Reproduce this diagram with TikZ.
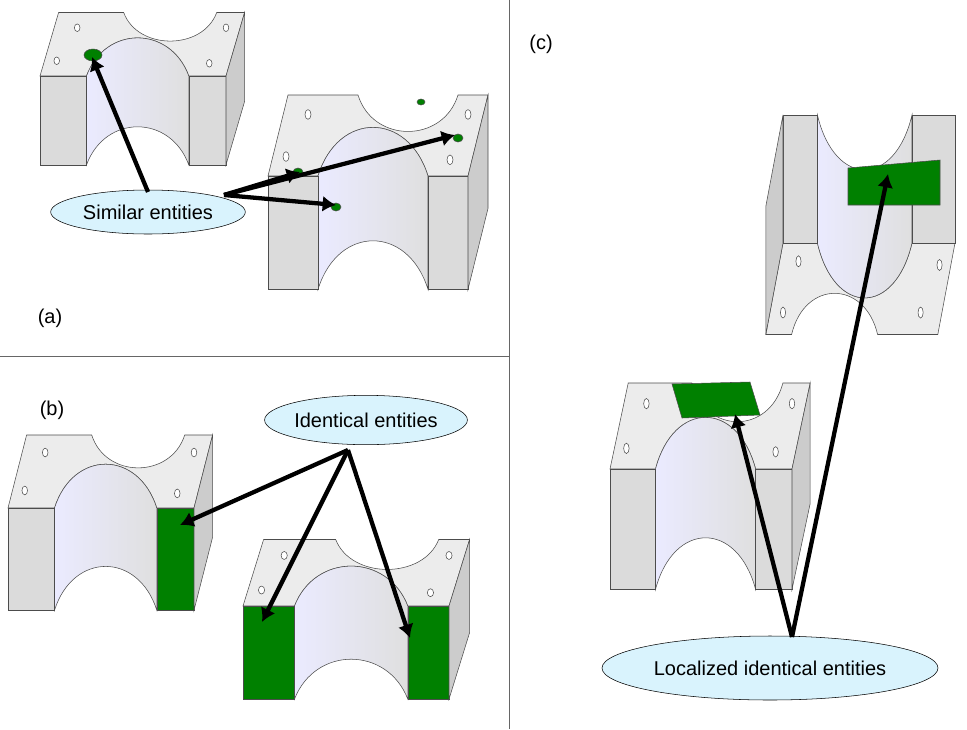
\documentclass[tikz,border=0pt]{standalone}
\usepackage{fontspec}
\setmainfont{Liberation Sans}
\usetikzlibrary{shapes.geometric,arrows.meta}
\tikzset{lf/.store in=\lfc, rf/.store in=\rfc, lf=gray!28, rf=gray!28}
\begin{document}
\begin{tikzpicture}[x=0.75pt,y=-0.75pt,
  lbl/.style={ellipse,draw=black,fill=cyan!15!white,inner sep=0pt,font=\fontsize{15}{17}\selectfont},
  arr/.style={line width=3.2pt,-{Latex[length=10pt,width=12pt]}},
  face/.style={draw=black!70,line width=0.4pt},
  grn/.style={fill=green!50!black,draw=black!70,line width=0.4pt},
  part/.pic={
    \fill[face,fill=gray!15] (0,0)--(50,0) .. controls (70,-40) and (140,-40) .. (160,0)--(200,0)--(220,-50)--(190,-50) .. controls (175,-20) and (105,-20) .. (90,-50)--(20,-50)--cycle;
    \shade[left color=blue!8,right color=gray!25,draw=black!70,line width=0.4pt] (50,0) .. controls (70,-40) and (140,-40) .. (160,0)--(160,70) .. controls (140,30) and (70,30) .. (50,70)--cycle;
    \fill[face,fill=\lfc] (0,0)--(50,0)--(50,70)--(0,70)--cycle;
    \fill[face,fill=\rfc] (160,0)--(200,0)--(200,70)--(160,70)--cycle;
    \fill[face,fill=gray!40] (200,0)--(220,-50)--(220,20)--(200,70)--cycle;
    \draw[black!70,fill=white] (18,-12) circle (3) (40,-38) circle (3) (200,-38) circle (3) (182,-10) circle (3);
  }]
\useasboundingbox (0,0) rectangle (967,729);
\draw[black!60] (509,0)--(509,729) (0,356)--(509,356);
\node[font=\fontsize{15}{17}\selectfont] (la) at (50,318) {(a)};
\node[font=\fontsize{15}{17}\selectfont] (lb) at (52,410) {(b)};
\node[font=\fontsize{15}{17}\selectfont] (lc) at (541,44) {(c)};
% parts
\pic at (40,76) [xscale=0.93,yscale=1.27] {part};
\pic at (268,176) [xscale=1.0,yscale=1.62] {part};
\pic[rf=green!50!black] at (8,508) [xscale=0.93,yscale=1.46] {part};
\pic[lf=green!50!black,rf=green!50!black] at (243,606) [xscale=1.03,yscale=1.33] {part};
\pic at (955,243) [xscale=-0.86,yscale=-1.83] {part};
\pic at (610,469) [xscale=0.91,yscale=1.72] {part};
% green features
\fill[grn] (93,55) ellipse (9 and 6);
\fill[grn] (298,172) ellipse (5 and 4);
\fill[grn] (458,138) ellipse (5 and 4);
\fill[grn] (336,207) ellipse (5 and 4);
\fill[grn] (421,102) ellipse (4 and 3);
\fill[grn] (848,168)--(940,160)--(940,205)--(848,205)--cycle;
\fill[grn] (672,384)--(750,382)--(760,415)--(682,418)--cycle;
% labels
\node[lbl,minimum width=146pt,minimum height=33pt] (s) at (148,212) {Similar entities};
\node[lbl,minimum width=150pt,minimum height=37pt] (i) at (366,420) {Identical entities};
\node[lbl,minimum width=252pt,minimum height=48pt] (l) at (770,668) {Localized identical entities};
\coordinate (sa) at (148,192);
\coordinate (sb) at (224,195);
\coordinate (ib) at (348,450);
\coordinate (lt) at (792,637);
\draw[arr] (sa)--(92,57);
\draw[arr] (sb)--(300,172);
\draw[arr] (sb)--(455,135);
\draw[arr] (sb)--(336,205);
\draw[arr] (ib)--(180,525);
\draw[arr] (ib)--(262,622);
\draw[arr] (ib)--(410,638);
\draw[arr] (lt)--(735,414);
\draw[arr] (lt)--(888,174);
\end{tikzpicture}
\end{document}
